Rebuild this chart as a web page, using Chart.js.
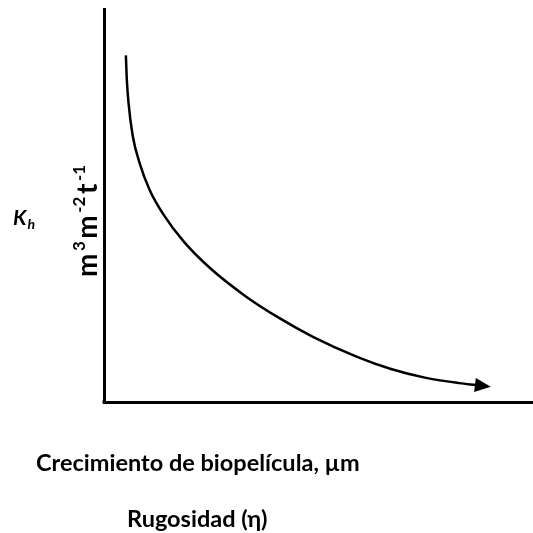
<!DOCTYPE html>
<html>
<head>
<meta charset="utf-8">
<script src="https://cdn.jsdelivr.net/npm/chart.js@4/dist/chart.umd.min.js"></script>
<style>
  html, body { margin: 0; padding: 0; background: #fff; }
  canvas { display: block; }
</style>
</head>
<body>
<canvas id="c" width="533" height="533"></canvas>
<script>
// curva esquemática Kh vs crecimiento (unidades relativas 0-100)
const curveX = [5.1, 5.3, 5.7, 6.7, 8.3, 10.7, 13.8, 18.6, 24.9, 32.9, 40.8, 48.7, 59.0, 66.9, 74.8, 82.8, 86.7];
const curveY = [88.2, 82.4, 76.3, 67.7, 60.8, 53.8, 47.8, 40.8, 33.9, 27.0, 21.4, 16.6, 11.5, 8.4, 6.2, 4.8, 4.3];

const xTitle = "Crecimiento de biopelícula, µm";
const xSubTitle = "Rugosidad (η)";
const yName = "K";
const yNameSub = "h";
// unidades: [texto, superíndice?]
const yUnits = [["m", false], ["3", true], ["m", false], ["-2", true], ["t", false], ["-1", true]];

const FONT = "Lato, 'Open Sans', sans-serif";

const labelsPlugin = {
  id: "labels",
  afterDraw(chart) {
    const { ctx } = chart;
    ctx.save();
    ctx.fillStyle = "#000";
    ctx.textBaseline = "alphabetic";
    ctx.textAlign = "left";

    // títulos del eje x
    ctx.font = `bold 23.5px ${FONT}`;
    ctx.fillText(xTitle, 36, 471);
    ctx.fillText(xSubTitle, 127, 527);

    // K_h
    ctx.font = `italic bold 21px ${FONT}`;
    ctx.fillText(yName, 13, 225);
    const kw = ctx.measureText(yName).width;
    ctx.font = `italic bold 14px ${FONT}`;
    ctx.fillText(yNameSub, 13 + kw + 1, 229);

    // unidades rotadas
    ctx.translate(97, 277);
    ctx.rotate(-Math.PI / 2);
    let x = 0;
    for (const [t, sup] of yUnits) {
      ctx.font = sup ? `bold 17px ${FONT}` : `bold 28px ${FONT}`;
      ctx.fillText(t, x, sup ? -12 : 0);
      x += ctx.measureText(t).width + 2.5;
    }
    ctx.restore();

    // punta de flecha al final de la curva
    const pts = chart.getDatasetMeta(0).data;
    const a = pts[pts.length - 2], b = pts[pts.length - 1];
    const ang = Math.atan2(b.y - a.y, b.x - a.x);
    ctx.save();
    ctx.translate(b.x, b.y);
    ctx.rotate(ang);
    ctx.beginPath();
    ctx.moveTo(15, 0);
    ctx.lineTo(-1, -7);
    ctx.lineTo(-1, 7);
    ctx.closePath();
    ctx.fillStyle = "#000";
    ctx.fill();
    ctx.restore();

    // esquina de los ejes
    const area = chart.chartArea;
    ctx.save();
    ctx.fillStyle = "#000";
    ctx.fillRect(area.left - 1.5, area.bottom - 1.5, 3, 3);
    ctx.restore();
  },
};

new Chart(document.getElementById("c"), {
  type: "scatter",
  data: {
    datasets: [{
      data: curveX.map((x, i) => ({ x, y: curveY[i] })),
      showLine: true,
      borderColor: "#000",
      borderWidth: 2.5,
      cubicInterpolationMode: "monotone",
      pointRadius: 0,
      fill: false,
    }],
  },
  options: {
    responsive: false,
    animation: false,
    layout: { padding: { left: 104, top: 9, right: 0, bottom: 131 } },
    plugins: { legend: { display: false }, tooltip: { enabled: false } },
    scales: {
      x: {
        min: 0, max: 100,
        grid: { display: false, drawTicks: false },
        ticks: { display: false },
        border: { display: true, color: "#000", width: 3 },
      },
      y: {
        min: 0, max: 100,
        grid: { display: false, drawTicks: false },
        ticks: { display: false },
        border: { display: true, color: "#000", width: 3 },
      },
    },
  },
  plugins: [labelsPlugin],
});
</script>
</body>
</html>
